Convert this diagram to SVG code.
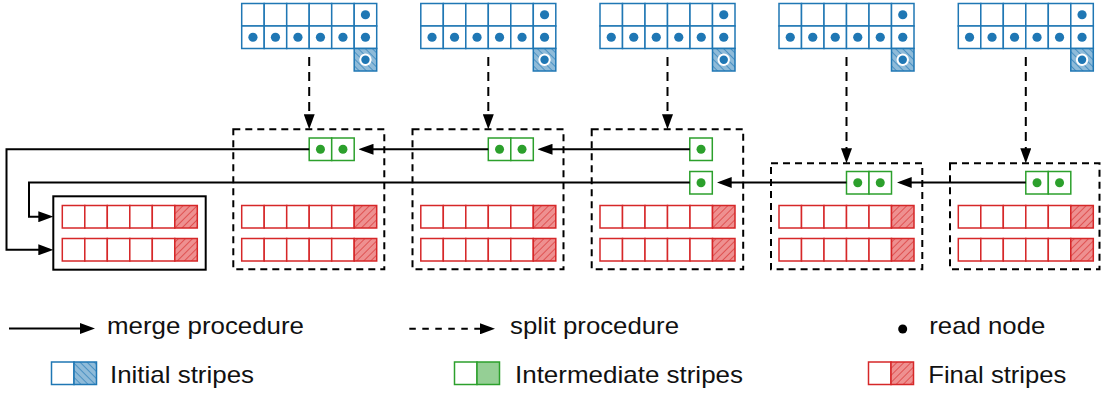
<svg xmlns="http://www.w3.org/2000/svg" xmlns:xlink="http://www.w3.org/1999/xlink" width="1101" height="396" viewBox="0 0 1101 396">
<style>
.bc{fill:#fff;stroke:#1f77b4;stroke-width:1.5}
.bh{fill:url(#hb);stroke:#1f77b4;stroke-width:1.5}
.bd{fill:#1f77b4}
.bdr{fill:#1f77b4;stroke:#fff;stroke-width:2}
.rc{fill:#fff;stroke:#d62728;stroke-width:1.5}
.rh{fill:url(#hr);stroke:#d62728;stroke-width:1.5}
.gc{fill:#fff;stroke:#2ca02c;stroke-width:1.5}
.gf{fill:#95cf95;stroke:#2ca02c;stroke-width:1.5}
.gd{fill:#2ca02c}
.dbox{fill:none;stroke:#000;stroke-width:2;stroke-dasharray:7,5}
.sbox{fill:none;stroke:#000;stroke-width:2}
.merge{fill:none;stroke:#000;stroke-width:2;marker-end:url(#ah)}
.split{fill:none;stroke:#000;stroke-width:2;stroke-dasharray:9,6;marker-end:url(#ah)}
.lsplit{fill:none;stroke:#000;stroke-width:2;stroke-dasharray:6.5,6.5;marker-end:url(#ah)}
text{font-family:"Liberation Sans",Arial,sans-serif;font-size:24px;fill:#111}
</style>
<defs>
<pattern id="hb" patternUnits="userSpaceOnUse" width="5" height="5" patternTransform="rotate(-45)">
<rect width="5" height="5" fill="#8fbbd9"/>
<line x1="0" y1="0" x2="0" y2="5" stroke="#1f77b4" stroke-width="1.2"/>
</pattern>
<pattern id="hr" patternUnits="userSpaceOnUse" width="5" height="5" patternTransform="rotate(45)">
<rect width="5" height="5" fill="#ee9090"/>
<line x1="0" y1="0" x2="0" y2="5" stroke="#d62728" stroke-width="1.2"/>
</pattern>
<marker id="ah" viewBox="0 0 15 11" refX="11" refY="5.5" markerWidth="15" markerHeight="11" markerUnits="userSpaceOnUse" orient="auto">
<path d="M0,0 L15,5.5 L0,11 z" fill="#000"/>
</marker>
<g id="blueGrid">
<rect class="bc" x="0" y="0" width="22.5" height="22.5"/>
<rect class="bc" x="22.5" y="0" width="22.5" height="22.5"/>
<rect class="bc" x="45" y="0" width="22.5" height="22.5"/>
<rect class="bc" x="67.5" y="0" width="22.5" height="22.5"/>
<rect class="bc" x="90" y="0" width="22.5" height="22.5"/>
<rect class="bc" x="112.5" y="0" width="22.5" height="22.5"/>
<rect class="bc" x="0" y="22.5" width="22.5" height="22.5"/>
<rect class="bc" x="22.5" y="22.5" width="22.5" height="22.5"/>
<rect class="bc" x="45" y="22.5" width="22.5" height="22.5"/>
<rect class="bc" x="67.5" y="22.5" width="22.5" height="22.5"/>
<rect class="bc" x="90" y="22.5" width="22.5" height="22.5"/>
<rect class="bc" x="112.5" y="22.5" width="22.5" height="22.5"/>
<rect class="bh" x="112.5" y="45" width="22.5" height="22.5"/>
<circle class="bd" cx="123.75" cy="11.25" r="4.6"/>
<circle class="bd" cx="11.25" cy="33.75" r="4.6"/>
<circle class="bd" cx="33.75" cy="33.75" r="4.6"/>
<circle class="bd" cx="56.25" cy="33.75" r="4.6"/>
<circle class="bd" cx="78.75" cy="33.75" r="4.6"/>
<circle class="bd" cx="101.25" cy="33.75" r="4.6"/>
<circle class="bd" cx="123.75" cy="33.75" r="4.6"/>
<circle class="bdr" cx="123.75" cy="56.25" r="5.2"/>
</g>
<g id="redPair">
<rect class="rc" x="0" y="0" width="22.5" height="22.5"/>
<rect class="rc" x="22.5" y="0" width="22.5" height="22.5"/>
<rect class="rc" x="45" y="0" width="22.5" height="22.5"/>
<rect class="rc" x="67.5" y="0" width="22.5" height="22.5"/>
<rect class="rc" x="90" y="0" width="22.5" height="22.5"/>
<rect class="rh" x="112.5" y="0" width="22.5" height="22.5"/>
<rect class="rc" x="0" y="33" width="22.5" height="22.5"/>
<rect class="rc" x="22.5" y="33" width="22.5" height="22.5"/>
<rect class="rc" x="45" y="33" width="22.5" height="22.5"/>
<rect class="rc" x="67.5" y="33" width="22.5" height="22.5"/>
<rect class="rc" x="90" y="33" width="22.5" height="22.5"/>
<rect class="rh" x="112.5" y="33" width="22.5" height="22.5"/>
</g>
<g id="greenPair">
<rect class="gc" x="0" y="0" width="22.5" height="22.5"/>
<rect class="gc" x="22.5" y="0" width="22.5" height="22.5"/>
<circle class="gd" cx="11.25" cy="11.25" r="4.5"/>
<circle class="gd" cx="33.75" cy="11.25" r="4.5"/>
</g>
<g id="greenOne">
<rect class="gc" x="0" y="0" width="22.5" height="22.5"/>
<circle class="gd" cx="11.25" cy="11.25" r="4.5"/>
</g>
</defs>
<rect width="1101" height="396" fill="#fff"/>

<g id="initial-1"><use xlink:href="#blueGrid" transform="translate(241.7,3.5)"/></g>
<g id="initial-2"><use xlink:href="#blueGrid" transform="translate(420.8,3.5)"/></g>
<g id="initial-3"><use xlink:href="#blueGrid" transform="translate(600,3.5)"/></g>
<g id="initial-4"><use xlink:href="#blueGrid" transform="translate(779,3.5)"/></g>
<g id="initial-5"><use xlink:href="#blueGrid" transform="translate(958.3,3.5)"/></g>

<g id="result">
<rect class="sbox" x="53.3" y="196.3" width="152.4" height="73.4"/>
<use xlink:href="#redPair" transform="translate(62.3,205.5)"/>
</g>
<g id="node-1">
<rect class="dbox" x="233.3" y="129.3" width="151" height="140"/>
<use xlink:href="#greenPair" transform="translate(309.2,138)"/>
<use xlink:href="#redPair" transform="translate(241.7,205.5)"/>
</g>
<g id="node-2">
<rect class="dbox" x="412.5" y="129.3" width="151" height="140"/>
<use xlink:href="#greenPair" transform="translate(488.3,138)"/>
<use xlink:href="#redPair" transform="translate(420.8,205.5)"/>
</g>
<g id="node-3">
<rect class="dbox" x="591.7" y="129.3" width="151.5" height="140"/>
<use xlink:href="#greenOne" transform="translate(689.8,138)"/>
<use xlink:href="#greenOne" transform="translate(689.8,171.5)"/>
<use xlink:href="#redPair" transform="translate(600,205.5)"/>
</g>
<g id="node-4">
<rect class="dbox" x="771" y="163.3" width="151.3" height="106"/>
<use xlink:href="#greenPair" transform="translate(846.5,171.5)"/>
<use xlink:href="#redPair" transform="translate(779,205.5)"/>
</g>
<g id="node-5">
<rect class="dbox" x="950" y="163.3" width="149.5" height="106"/>
<use xlink:href="#greenPair" transform="translate(1025.8,171.5)"/>
<use xlink:href="#redPair" transform="translate(958.3,205.5)"/>
</g>

<g id="connectors">
<path class="split" d="M309.2,57 V125.3"/>
<path class="split" d="M488.3,57 V125.3"/>
<path class="split" d="M667.5,57 V125.3"/>
<path class="split" d="M846.5,57 V159.3"/>
<path class="split" d="M1025.8,57 V159.3"/>
<path class="merge" d="M689.8,149.3 H541.5"/>
<path class="merge" d="M488.3,149.3 H362.5"/>
<path class="merge" d="M309.2,149.3 H6.5 V249.8 H49.3"/>
<path class="merge" d="M1025.8,182.5 H900.7"/>
<path class="merge" d="M846.5,182.5 H720.7"/>
<path class="merge" d="M689.8,182.5 H29 V216.7 H49.3"/>
</g>

<g id="legend">
<path class="merge" d="M9,328.5 H91"/>
<text x="107" y="334" textLength="197" lengthAdjust="spacingAndGlyphs">merge procedure</text>
<path class="lsplit" d="M409.3,328.8 H491"/>
<text x="510" y="334" textLength="169" lengthAdjust="spacingAndGlyphs">split procedure</text>
<circle cx="902.7" cy="329" r="4.5" fill="#000"/>
<text x="929.3" y="334" textLength="116" lengthAdjust="spacingAndGlyphs">read node</text>
<rect class="bc" x="51.5" y="362" width="22.5" height="22.5"/>
<rect class="bh" x="74" y="362" width="22.5" height="22.5"/>
<text x="110" y="383" textLength="144" lengthAdjust="spacingAndGlyphs">Initial stripes</text>
<rect class="gc" x="454.5" y="362" width="22.5" height="22.5"/>
<rect class="gf" x="477" y="362" width="22.5" height="22.5"/>
<text x="515" y="383" textLength="228" lengthAdjust="spacingAndGlyphs">Intermediate stripes</text>
<rect class="rc" x="868.5" y="362" width="22.5" height="22.5"/>
<rect class="rh" x="891" y="362" width="22.5" height="22.5"/>
<text x="928.3" y="383" textLength="138" lengthAdjust="spacingAndGlyphs">Final stripes</text>
</g>
</svg>
